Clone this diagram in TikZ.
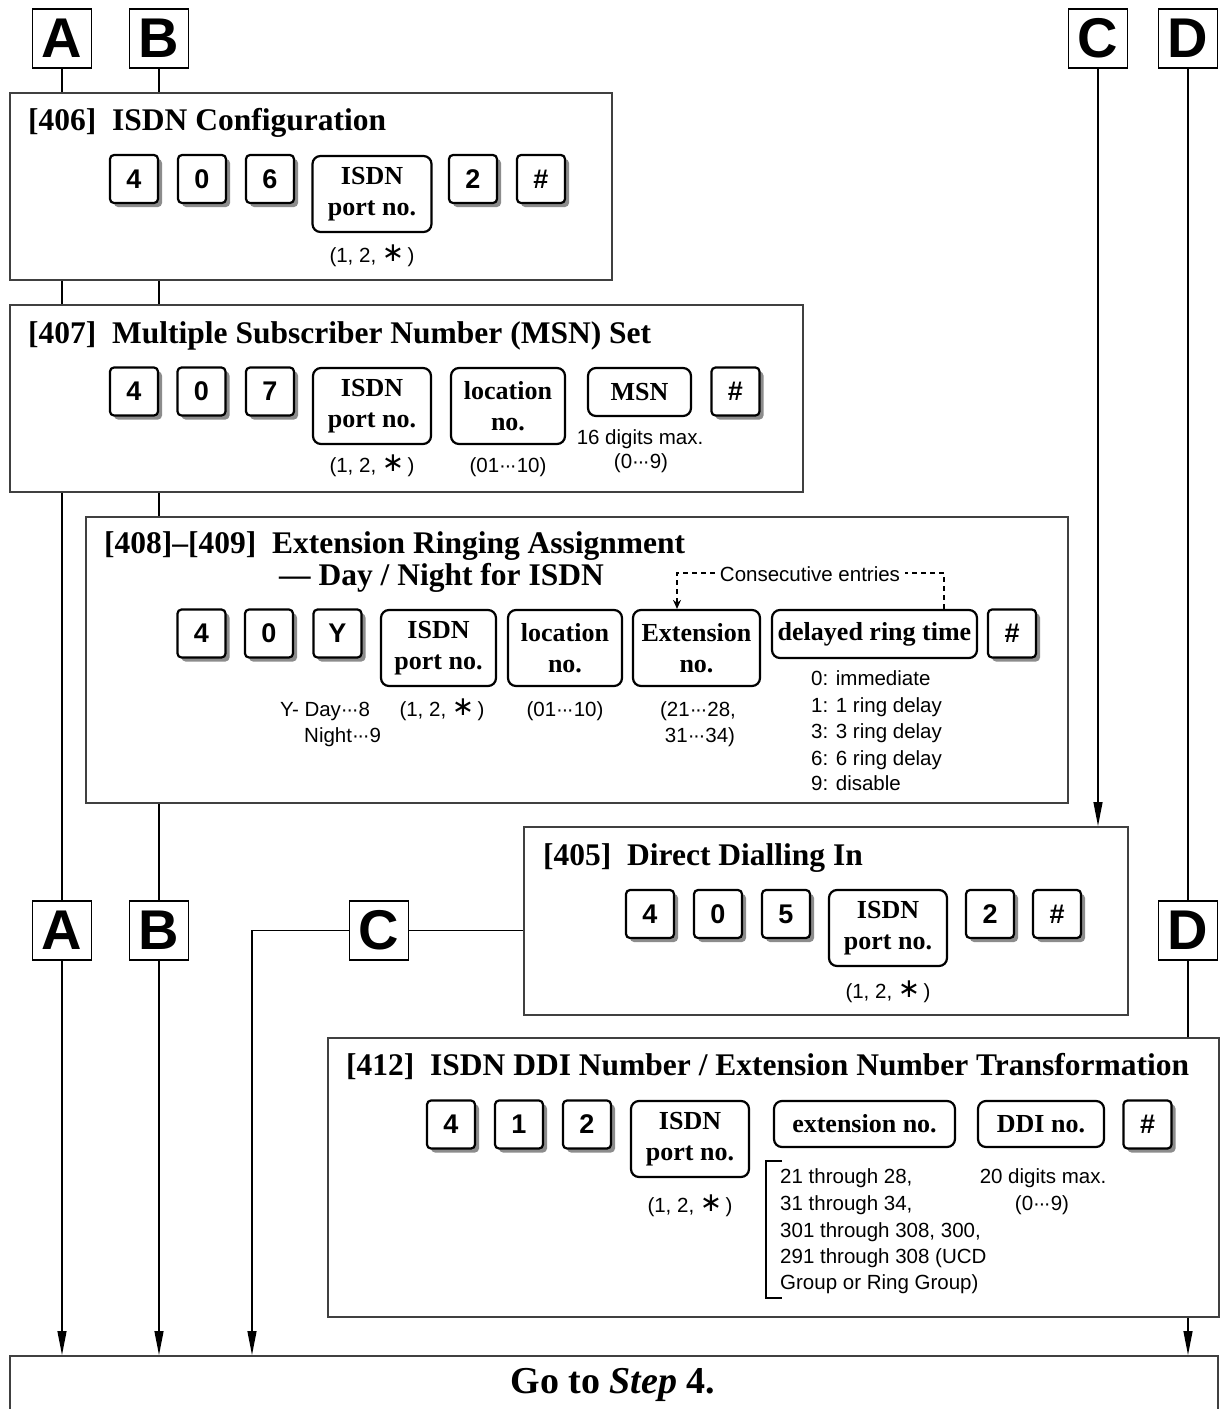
\documentclass[tikz,border=0pt]{standalone}
\usepackage{fontspec}
\usepackage{graphicx}
\setmainfont{Liberation Serif}
\newfontfamily\arial{Liberation Sans}
\newfontfamily\djv{DejaVu Sans}
\usetikzlibrary{arrows.meta,shadows}
\newcommand\kome{\raisebox{0.02em}{\scalebox{1.3}{\djv ∗}}}
\newcommand\mdd{·\kern-0.07em·\kern-0.07em·}
\begin{document}
\begin{tikzpicture}[x=1pt,y=-1pt,
  panelbox/.style={draw=black!75, line width=1.8pt, fill=white, inner sep=0pt, anchor=north west},
  letterbox/.style={draw, line width=1.3pt, fill=white, minimum size=59pt, inner sep=0pt, font=\arial\bfseries\fontsize{56}{56}\selectfont},
  keybox/.style={draw, line width=2.2pt, rounded corners=4pt, fill=white, minimum size=48pt, inner sep=0pt, font=\arial\bfseries\fontsize{27}{27}\selectfont, drop shadow={shadow xshift=4pt, shadow yshift=-4pt, fill=black!45, opacity=1}},
  fieldbox/.style={draw, line width=2.2pt, rounded corners=8pt, fill=white, inner sep=0pt, align=center, font=\bfseries\fontsize{26}{31}\selectfont},
  titletext/.style={anchor=base west, inner sep=0pt, font=\bfseries\fontsize{31.5}{33}\selectfont},
  notetext/.style={anchor=base, inner sep=0pt, font=\arial\fontsize{20.5}{26.5}\selectfont},
  notew/.style={notetext, anchor=base west},
  wire/.style={line width=1.3pt},
  arrowline/.style={wire, -{Triangle[length=24pt,width=9pt]}},
  dashline/.style={line width=1.2pt, dash pattern=on 5pt off 4pt},
]
\useasboundingbox (0,0) rectangle (1219,1409);

% ---- top letters
\node[letterbox] (At) at (62,38.5) {A};
\node[letterbox] (Bt) at (159,38.5) {B};
\node[letterbox] (Ct) at (1098,38.5) {C};
\node[letterbox] (Dt) at (1188,38.5) {D};

% ---- [406]
\node[panelbox, minimum width=602pt, minimum height=187pt] (p406) at (9,92) {};
\node[titletext] (t406) at (28,130) {[406]\hspace{0.5em}ISDN Configuration};
\node[keybox] (k406a) at (134,179) {4};
\node[keybox] (k406b) at (202,179) {0};
\node[keybox] (k406c) at (270,179) {6};
\node[fieldbox, minimum width=119pt, minimum height=76pt] (f406) at (372,194) {ISDN\\port no.};
\node[keybox] (k406d) at (473,179) {2};
\node[keybox] (k406e) at (541,179) {\#};
\node[notetext] (n406) at (372,262) {(1, 2, \kome\,)};

% ---- [407]
\node[panelbox, minimum width=793pt, minimum height=187pt] (p407) at (9,304) {};
\node[titletext] (t407) at (28,343) {[407]\hspace{0.5em}Multiple Subscriber Number (MSN) Set};
\node[keybox] (k407a) at (134,391.5) {4};
\node[keybox] (k407b) at (201.5,391.5) {0};
\node[keybox] (k407c) at (270,391.5) {7};
\node[fieldbox, minimum width=118pt, minimum height=76pt] (f407a) at (372,406) {ISDN\\port no.};
\node[fieldbox, minimum width=114pt, minimum height=76pt] (f407b) at (508,406) {location\\no.};
\node[fieldbox, minimum width=103pt, minimum height=48pt] (f407c) at (639.5,392) {MSN};
\node[keybox] (k407d) at (735.5,391.5) {\#};
\node[notetext] (n407a) at (372,472) {(1, 2, \kome\,)};
\node[notetext] (n407b) at (508,472) {(01\mdd 10)};
\node[notetext] (n407c) at (640,444) {16 digits max.};
\node[notetext] (n407d) at (641,468) {(0\mdd 9)};

% ---- [408]-[409]
\node[panelbox, minimum width=982pt, minimum height=286pt] (p408) at (85,516) {};
\node[titletext] (t408a) at (104,553) {[408]–[409]\hspace{0.5em}Extension Ringing Assignment};
\node[titletext] (t408b) at (279,585) {— Day / Night for ISDN};
\node[keybox] (k408a) at (201.5,633.5) {4};
\node[keybox] (k408b) at (269,633.5) {0};
\node[keybox] (k408c) at (337.5,633.5) {Y};
\node[fieldbox, minimum width=115pt, minimum height=76pt] (f408a) at (438.5,648) {ISDN\\port no.};
\node[fieldbox, minimum width=114pt, minimum height=76pt] (f408b) at (565,648) {location\\no.};
\node[fieldbox, minimum width=127pt, minimum height=76pt] (f408c) at (696.5,648) {Extension\\no.};
\node[fieldbox, minimum width=205pt, minimum height=48pt] (f408d) at (874.5,634) {delayed ring time};
\node[keybox] (k408d) at (1012,633.5) {\#};
\node[notew] (n408a) at (280,716) {Y- Day\mdd 8};
\node[notew] (n408b) at (304,742) {Night\mdd 9};
\node[notetext] (n408c) at (442,716) {(1, 2, \kome\,)};
\node[notetext] (n408d) at (565,716) {(01\mdd 10)};
\node[notetext] (n408e) at (698,716) {(21\mdd 28,};
\node[notetext] (n408f) at (700,742) {31\mdd 34)};
\node[notew] (d0) at (811,685) {0: immediate};
\node[notew] (d1) at (811,712) {1: 1 ring delay};
\node[notew] (d3) at (811,738) {3: 3 ring delay};
\node[notew] (d6) at (811,765) {6: 6 ring delay};
\node[notew] (d9) at (811,790) {9: disable};
% consecutive entries
\coordinate (cr) at (944,573);
\coordinate (cl) at (677,573);
\node[notetext, inner xsep=5pt] (cons) at (810,581) {Consecutive entries};
\draw[dashline] (cr |- f408d.north) -- (cr) -- (cons.east |- cr);
\draw[dashline, -{Stealth[length=9pt,width=8pt]}] (cons.west |- cl) -- (cl) -- (cl |- f408c.north);

% ---- [405]
\node[panelbox, minimum width=604pt, minimum height=188pt] (p405) at (523,826) {};
\node[titletext] (t405) at (543,865) {[405]\hspace{0.5em}Direct Dialling In};
\node[keybox] (k405a) at (650,914) {4};
\node[keybox] (k405b) at (718,914) {0};
\node[keybox] (k405c) at (786,914) {5};
\node[fieldbox, minimum width=118pt, minimum height=76pt] (f405) at (888,928) {ISDN\\port no.};
\node[keybox] (k405d) at (990,914) {2};
\node[keybox] (k405e) at (1057,914) {\#};
\node[notetext] (n405) at (888,998) {(1, 2, \kome\,)};

% ---- middle letters
\node[letterbox] (Am) at (62,930.5) {A};
\node[letterbox] (Bm) at (159,930.5) {B};
\node[letterbox] (Cm) at (379,930.5) {C};
\node[letterbox] (Dm) at (1188,930.5) {D};

% ---- [412]
\node[panelbox, minimum width=891pt, minimum height=279pt] (p412) at (327,1037) {};
\node[titletext] (t412) at (346,1075) {[412]\hspace{0.5em}ISDN DDI Number / Extension Number Transformation};
\node[keybox] (k412a) at (451,1124.5) {4};
\node[keybox] (k412b) at (519,1124.5) {1};
\node[keybox] (k412c) at (587,1124.5) {2};
\node[fieldbox, minimum width=118pt, minimum height=76pt] (f412a) at (690,1139) {ISDN\\port no.};
\node[fieldbox, minimum width=181pt, minimum height=46pt] (f412b) at (864.5,1124) {extension no.};
\node[fieldbox, minimum width=126pt, minimum height=46pt] (f412c) at (1041,1124) {DDI no.};
\node[keybox] (k412d) at (1147.5,1124.5) {\#};
\node[notetext] (n412a) at (690,1212) {(1, 2, \kome\,)};
\node[notew] (e1) at (780,1183) {21 through 28,};
\node[notew] (e2) at (780,1210) {31 through 34,};
\node[notew] (e3) at (780,1237) {301 through 308, 300,};
\node[notew] (e4) at (780,1263) {291 through 308 (UCD};
\node[notew] (e5) at (780,1289) {Group or Ring Group)};
\draw[line width=1.2pt] (782,1161) -- (766,1161) -- (766,1298) -- (782,1298);
\node[notetext] (n412b) at (1043,1183) {20 digits max.};
\node[notetext] (n412c) at (1042,1210) {(0\mdd 9)};

% ---- final
\node[panelbox, minimum width=1208pt, minimum height=90pt] (final) at (9,1355) {};
\node[anchor=base, inner sep=0pt, font=\bfseries\fontsize{38}{40}\selectfont] (goto) at (613,1393) {Go to \textit{Step} 4.};

% ---- connectors
\draw[wire] (At.south) -- (At.south |- p406.north);
\draw[wire] (p406.south -| At) -- (p407.north -| At);
\draw[wire] (p407.south -| At) -- (Am.north);
\draw[arrowline] (Am.south) -- (Am.south |- final.north);

\draw[wire] (Bt.south) -- (Bt.south |- p406.north);
\draw[wire] (p406.south -| Bt) -- (p407.north -| Bt);
\draw[wire] (p407.south -| Bt) -- (p408.north -| Bt);
\draw[wire] (p408.south -| Bt) -- (Bm.north);
\draw[arrowline] (Bm.south) -- (Bm.south |- final.north);

\draw[arrowline] (Ct.south) -- (Ct.south |- p405.north);
\draw[wire] (p405.west |- Cm) -- (Cm.east);
\coordinate (cc) at (252,930.5);
\draw[arrowline] (Cm.west) -- (cc) -- (cc |- final.north);

\draw[wire] (Dt.south) -- (Dm.north);
\draw[wire] (Dm.south) -- (Dm.south |- p412.north);
\draw[arrowline] (p412.south -| Dm) -- (Dm.south |- final.north);
\end{tikzpicture}
\end{document}
